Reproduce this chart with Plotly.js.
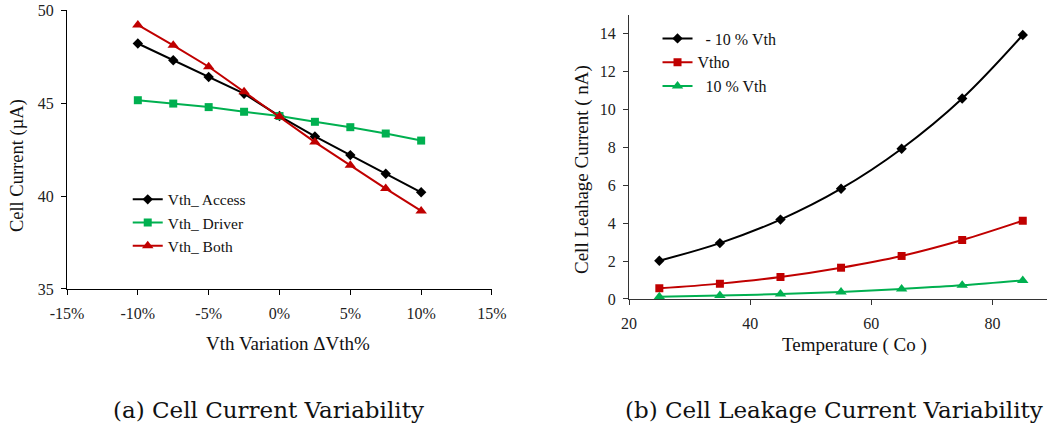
<!DOCTYPE html>
<html>
<head>
<meta charset="utf-8">
<script src="https://cdn.plot.ly/plotly-3.0.1.min.js"></script>
<style>
html,body{margin:0;padding:0;background:#fff;}
#chart{width:1047px;height:430px;}
</style>
</head>
<body>
<div id="chart"></div>
<script>
// ---- Data: (a) Cell Current Variability ----
const vthVariation = [-0.10, -0.075, -0.05, -0.025, 0, 0.025, 0.05, 0.075, 0.10];
const vthAccess = [48.2, 47.3, 46.4, 45.5, 44.3, 43.2, 42.2, 41.2, 40.2];
const vthDriver = [45.15, 44.97, 44.78, 44.53, 44.3, 43.99, 43.70, 43.36, 42.98];
const vthBoth = [49.2, 48.1, 46.95, 45.6, 44.27, 42.9, 41.65, 40.4, 39.2];
const xTickVals = [-0.15, -0.10, -0.05, 0, 0.05, 0.10, 0.15];
const xTickLabels = ['-15%', '-10%', '-5%', '0%', '5%', '10%', '15%'];

// ---- Data: (b) Cell Leakage Current Variability ----
const temperature = [25, 35, 45, 55, 65, 75, 85];
const leakMinus10 = [2.02, 2.95, 4.19, 5.82, 7.93, 10.58, 13.93];
const leakVtho = [0.56, 0.81, 1.16, 1.65, 2.27, 3.11, 4.13];
const leakPlus10 = [0.12, 0.18, 0.26, 0.37, 0.53, 0.72, 0.98];

const black = '#000000', green = '#00B050', red = '#C00000';
const serif = "'Liberation Serif', 'Times New Roman', serif";

const traces = [
  {x: vthVariation, y: vthAccess, name: 'Vth_ Access', type: 'scatter', mode: 'lines+markers',
   line: {color: black, width: 2}, marker: {symbol: 'diamond', size: 8, color: black}, xaxis: 'x', yaxis: 'y', legend: 'legend'},
  {x: vthVariation, y: vthDriver, name: 'Vth_ Driver', type: 'scatter', mode: 'lines+markers',
   line: {color: green, width: 2}, marker: {symbol: 'square', size: 8, color: green}, xaxis: 'x', yaxis: 'y', legend: 'legend'},
  {x: vthVariation, y: vthBoth, name: 'Vth_ Both', type: 'scatter', mode: 'lines+markers',
   line: {color: red, width: 2}, marker: {symbol: 'triangle-up', size: 10, color: red}, xaxis: 'x', yaxis: 'y', legend: 'legend'},
  {x: temperature, y: leakMinus10, name: '\u00a0\u00a0- 10 % Vth', type: 'scatter', mode: 'lines+markers',
   line: {color: black, width: 2, shape: 'spline'}, marker: {symbol: 'diamond', size: 8, color: black}, xaxis: 'x2', yaxis: 'y2', legend: 'legend2'},
  {x: temperature, y: leakVtho, name: 'Vtho', type: 'scatter', mode: 'lines+markers',
   line: {color: red, width: 2, shape: 'spline'}, marker: {symbol: 'square', size: 8, color: red}, xaxis: 'x2', yaxis: 'y2', legend: 'legend2'},
  {x: temperature, y: leakPlus10, name: '\u00a0\u00a010 % Vth', type: 'scatter', mode: 'lines+markers',
   line: {color: green, width: 2, shape: 'spline'}, marker: {symbol: 'triangle-up', size: 10, color: green}, xaxis: 'x2', yaxis: 'y2', legend: 'legend2'}
];

const tickFont = {family: serif, size: 16, color: '#222'};
const titleFont = {family: serif, size: 19, color: '#111'};
const capFont = {family: 'DejaVu Serif, serif', size: 23, color: '#111'};

function ann(text, x, y, angle, font) {
  return {text: text, xref: 'paper', yref: 'paper', x: x, y: y, xanchor: 'center', yanchor: 'middle',
          showarrow: false, textangle: angle, font: font};
}

const layout = {
  width: 1047, height: 430,
  margin: {l: 0, r: 0, t: 0, b: 0},
  paper_bgcolor: '#fff', plot_bgcolor: '#fff',
  font: {family: serif, color: '#111'},
  showlegend: true,
  xaxis: {
    domain: [0.064, 0.4699], range: [-0.15, 0.15], anchor: 'y',
    tickvals: xTickVals, ticktext: xTickLabels,
    showgrid: false, zeroline: false, showline: true, linecolor: '#000', linewidth: 1,
    ticks: 'outside', ticklen: 5, tickcolor: '#000', tickfont: tickFont, ticklabelstandoff: 5
  },
  yaxis: {
    domain: [0.3279, 0.9767], range: [35, 50], anchor: 'x', dtick: 5,
    showgrid: false, zeroline: false, showline: true, linecolor: '#000', linewidth: 1,
    ticks: 'outside', ticklen: 5, tickcolor: '#000', tickfont: tickFont, ticklabelstandoff: 4
  },
  xaxis2: {
    domain: [0.6008, 1.0], range: [20, 89], anchor: 'y2',
    tickvals: [20, 40, 60, 80],
    showgrid: false, zeroline: false, showline: true, linecolor: '#333', linewidth: 1,
    ticks: 'outside', ticklen: 5, tickcolor: '#333', tickfont: tickFont, ticklabelstandoff: 5
  },
  yaxis2: {
    domain: [0.3047, 0.9658], range: [0, 15], anchor: 'x2',
    tickvals: [0, 2, 4, 6, 8, 10, 12, 14],
    showgrid: false, zeroline: false, showline: true, linecolor: '#333', linewidth: 1,
    ticks: 'outside', ticklen: 5, tickcolor: '#333', tickfont: tickFont, ticklabelstandoff: 4
  },
  legend: {
    x: 0.122, y: 0.575, xanchor: 'left', yanchor: 'top',
    bgcolor: 'rgba(0,0,0,0)', font: {family: serif, size: 15.5, color: '#111'},
    itemwidth: 30, tracegroupgap: 0
  },
  legend2: {
    x: 0.628, y: 0.95, xanchor: 'left', yanchor: 'top',
    bgcolor: 'rgba(0,0,0,0)', font: {family: serif, size: 16, color: '#111'},
    itemwidth: 30, tracegroupgap: 0
  },
  annotations: [
    ann('Vth Variation \u0394Vth%', 0.2751, 0.2023, 0, titleFont),
    ann('Cell Current (\u00b5A)', 0.0162, 0.616, -90, {family: serif, size: 18.5, color: '#111'}),
    ann('Temperature ( Co )', 0.8157, 0.1977, 0, titleFont),
    ann('Cell Leahage Current ( nA)', 0.5559, 0.6047, -90, titleFont),
    ann('(a) Cell Current Variability', 0.256, 0.046, 0, capFont),
    ann('(b) Cell Leakage Current Variability', 0.797, 0.046, 0, capFont)
  ]
};

Plotly.newPlot('chart', traces, layout, {displayModeBar: false, staticPlot: true});
</script>
</body>
</html>
